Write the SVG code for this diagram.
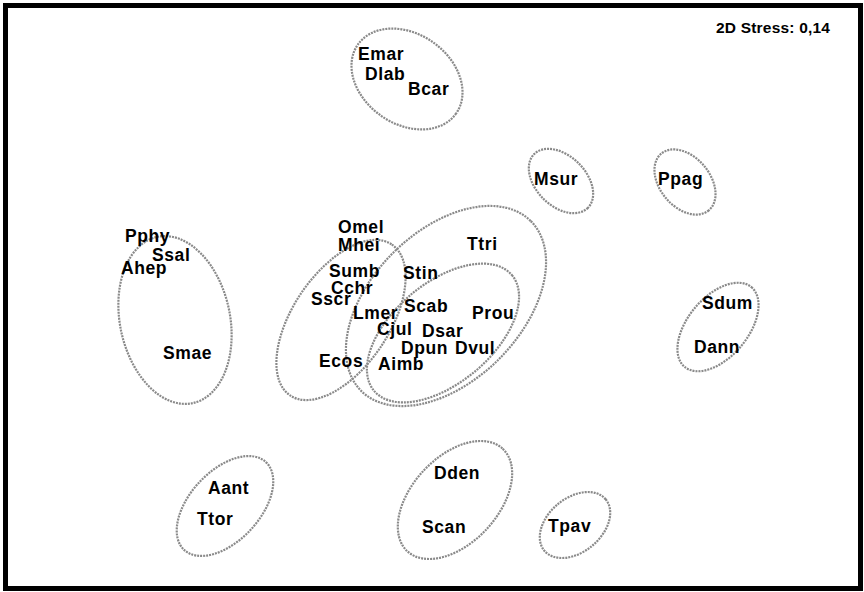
<svg xmlns="http://www.w3.org/2000/svg" width="864" height="592" viewBox="0 0 864 592">
<style>
.lbl{font-family:"Liberation Sans",Arial,sans-serif;font-weight:bold;font-size:17.5px;letter-spacing:0.6px;fill:#000}
.grp{fill:none;stroke:#8a8a8a;stroke-width:2.2;stroke-dasharray:2 1}
</style>
<rect x="0" y="0" width="864" height="592" fill="#fff"/>
<rect x="5.5" y="5.5" width="855" height="583" fill="none" stroke="#000" stroke-width="5"/>
<text class="lbl" x="716" y="33" style="font-size:15.5px;letter-spacing:0.2px">2D Stress: 0,14</text>
<g id="groups">
<ellipse id="g-emar" class="grp" cx="0" cy="0" rx="60" ry="45" transform="translate(407,79) rotate(35)"/>
<ellipse id="g-msur" class="grp" cx="0" cy="0" rx="38" ry="25" transform="translate(561,181) rotate(45)"/>
<ellipse id="g-ppag" class="grp" cx="0" cy="0" rx="37" ry="25" transform="translate(685,182) rotate(50)"/>
<ellipse id="g-sdum" class="grp" cx="0" cy="0" rx="52" ry="30" transform="translate(718,327) rotate(-50)"/>
<ellipse id="g-pphy" class="grp" cx="0" cy="0" rx="55" ry="85" transform="translate(175,320) rotate(-12)"/>
<ellipse id="g-aant" class="grp" cx="0" cy="0" rx="60" ry="35" transform="translate(225,506) rotate(-47)"/>
<ellipse id="g-dden" class="grp" cx="0" cy="0" rx="70" ry="43" transform="translate(455,500) rotate(-47)"/>
<ellipse id="g-tpav" class="grp" cx="0" cy="0" rx="40" ry="27" transform="translate(575,525) rotate(-40)"/>
<ellipse id="g-omel" class="grp" cx="0" cy="0" rx="91" ry="48" transform="translate(341,320) rotate(-56)"/>
<ellipse id="g-ttri" class="grp" cx="0" cy="0" rx="120" ry="75" transform="translate(446,306) rotate(-45)"/>
<ellipse id="g-scab" class="grp" cx="0" cy="0" rx="90" ry="50" transform="translate(443,333) rotate(-40)"/>
</g>
<g id="labels">
<text id="Emar" class="lbl" x="358" y="60">Emar</text>
<text id="Dlab" class="lbl" x="365" y="80">Dlab</text>
<text id="Bcar" class="lbl" x="408" y="95">Bcar</text>
<text id="Msur" class="lbl" x="534" y="185">Msur</text>
<text id="Ppag" class="lbl" x="658" y="185">Ppag</text>
<text id="Omel" class="lbl" x="338" y="233">Omel</text>
<text id="Mhei" class="lbl" x="338" y="251">Mhei</text>
<text id="Ttri" class="lbl" x="467" y="250">Ttri</text>
<text id="Pphy" class="lbl" x="125" y="242">Pphy</text>
<text id="Ssal" class="lbl" x="152" y="261">Ssal</text>
<text id="Ahep" class="lbl" x="121" y="274">Ahep</text>
<text id="Sumb" class="lbl" x="329" y="277">Sumb</text>
<text id="Stin" class="lbl" x="403" y="279">Stin</text>
<text id="Cchr" class="lbl" x="331" y="294">Cchr</text>
<text id="Sscr" class="lbl" x="311" y="305">Sscr</text>
<text id="Scab" class="lbl" x="404" y="312">Scab</text>
<text id="Lmer" class="lbl" x="353" y="319">Lmer</text>
<text id="Prou" class="lbl" x="472" y="319">Prou</text>
<text id="Sdum" class="lbl" x="702" y="309">Sdum</text>
<text id="Cjul" class="lbl" x="377" y="335">Cjul</text>
<text id="Dsar" class="lbl" x="422" y="337">Dsar</text>
<text id="Dann" class="lbl" x="694" y="353">Dann</text>
<text id="Smae" class="lbl" x="163" y="359">Smae</text>
<text id="Dpun" class="lbl" x="401" y="354">Dpun</text>
<text id="Dvul" class="lbl" x="455" y="354">Dvul</text>
<text id="Ecos" class="lbl" x="319" y="367">Ecos</text>
<text id="Aimb" class="lbl" x="378" y="370">Aimb</text>
<text id="Dden" class="lbl" x="434" y="479">Dden</text>
<text id="Aant" class="lbl" x="208" y="494">Aant</text>
<text id="Ttor" class="lbl" x="197" y="525">Ttor</text>
<text id="Scan" class="lbl" x="422" y="533">Scan</text>
<text id="Tpav" class="lbl" x="548" y="532">Tpav</text>
</g>
</svg>
